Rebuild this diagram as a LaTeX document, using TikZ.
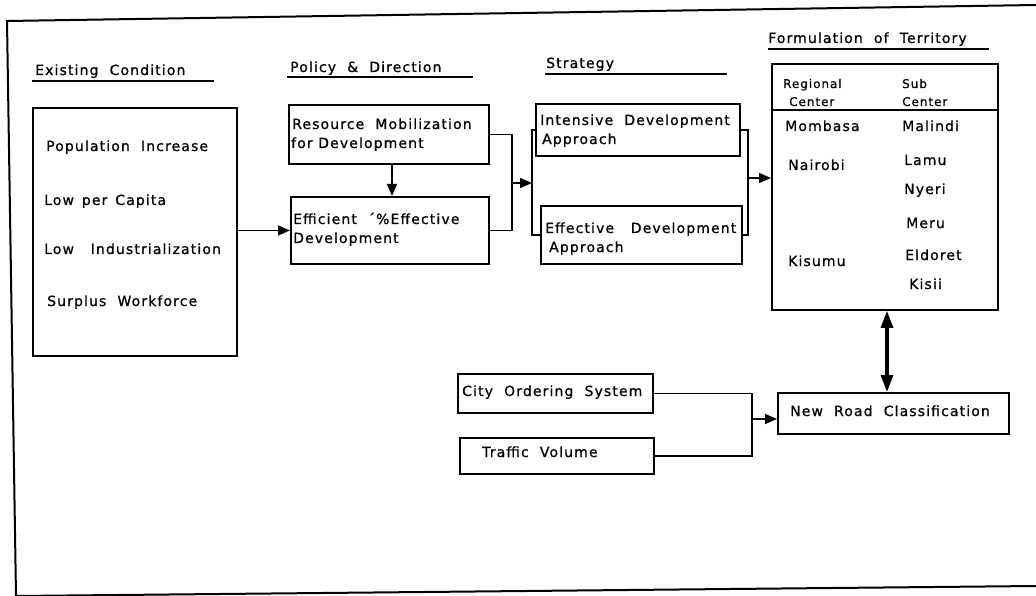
\documentclass[tikz,border=0pt]{standalone}
\usepackage{fontspec}
\setmainfont{DejaVu Sans}[LetterSpace=8,FakeBold=0.8]
\usetikzlibrary{arrows.meta}
\begin{document}
\begin{tikzpicture}[x=1pt,y=-1pt,
  box/.style={draw, line width=1.9pt, inner sep=0pt, anchor=north west},
  txt/.style={anchor=base west, inner sep=0pt, font=\fontsize{14}{16}\selectfont},
  small/.style={anchor=base west, inner sep=0pt, font=\fontsize{12}{14}\selectfont},
  con/.style={line width=1.4pt},
  arr/.style={line width=1.4pt, -{Triangle[length=12pt,width=10pt]}},
  dbl/.style={line width=3.2pt, {Triangle[length=17pt,width=12pt]}-{Triangle[length=17pt,width=12pt]}},
  rulestyle/.style={line width=1.3pt},
  frame/.style={line width=2pt}]
\useasboundingbox (0,0) rectangle (1036,596);
% outer frame
\coordinate (fTL) at (7,21);
\coordinate (fTR) at (1036,5);
\coordinate (fBL) at (16,596);
\coordinate (fBR) at (1036,586);
\draw[frame] (fTR) -- (fTL) -- (fBL);
\draw[frame] (fBL) -- (fBR);
% headings
\node[txt] (h1) at (35,75) {Existing\ \ Condition};
\node[txt] (h2) at (290,72) {Policy\ \ \&\ \ Direction};
\node[txt] (h3) at (546,68) {Strategy};
\node[txt] (h4) at (768,43) {Formulation\ \ of\ \ Territory};
\coordinate (u1a) at (32,81);  \coordinate (u1b) at (214,81);
\coordinate (u2a) at (287,77); \coordinate (u2b) at (473,77);
\coordinate (u3a) at (545,74); \coordinate (u3b) at (727,74);
\coordinate (u4a) at (768,49); \coordinate (u4b) at (989,49);
\draw[rulestyle] (u1a) -- (u1b);
\draw[rulestyle] (u2a) -- (u2b);
\draw[rulestyle] (u3a) -- (u3b);
\draw[rulestyle] (u4a) -- (u4b);
% boxes
\node[box, minimum width=204pt, minimum height=248pt] (ex) at (32,107) {};
\node[box, minimum width=200pt, minimum height=59pt] (res) at (288,104) {};
\node[box, minimum width=198pt, minimum height=67pt] (eff) at (290,196) {};
\node[box, minimum width=204pt, minimum height=52pt] (int) at (535,103) {};
\node[box, minimum width=201pt, minimum height=58pt] (efa) at (540,205) {};
\node[box, minimum width=226pt, minimum height=246pt] (ter) at (771,63) {};
\node[box, minimum width=195pt, minimum height=39pt] (city) at (457,373) {};
\node[box, minimum width=194pt, minimum height=36pt] (traf) at (459,437) {};
\node[box, minimum width=231pt, minimum height=41pt] (road) at (777,392) {};
% texts
\node[txt] (t1) at (46,151) {Population\ \ Increase};
\node[txt] (t2) at (44,205) {Low\ \,per\ \,Capita};
\node[txt] (t3) at (44,254) {Low\ \ \ Industrialization};
\node[txt] (t4) at (47,306) {Surplus\ \ Workforce};
\node[txt] (t5) at (292,129) {Resource\ \ Mobilization};
\node[txt] (t6) at (291,148) {for Development};
\node[txt] (t7) at (293,224) {Efficient\ \ ´\%Effective};
\node[txt] (t8) at (293,243) {Development};
\node[txt] (t9) at (540,125) {Intensive\ \ Development};
\node[txt] (t10) at (542,144) {Approach};
\node[txt] (t11) at (545,233) {Effective\ \ \ Development};
\node[txt] (t12) at (549,252) {Approach};
\node[small] (r1) at (783,88) {Regional};
\node[small] (r2) at (789,106) {Center};
\node[small] (s1) at (902,88) {Sub};
\node[small] (s2) at (902,106) {Center};
\node[txt] (c1) at (785,131) {Mombasa};
\node[txt] (c2) at (902,131) {Malindi};
\node[txt] (c3) at (788,170) {Nairobi};
\node[txt] (c4) at (904,165) {Lamu};
\node[txt] (c5) at (904,194) {Nyeri};
\node[txt] (c6) at (906,228) {Meru};
\node[txt] (c7) at (788,266) {Kisumu};
\node[txt] (c8) at (905,260) {Eldoret};
\node[txt] (c9) at (909,289) {Kisii};
\node[txt] (t13) at (462,396) {City\ \ Ordering\ \ System};
\node[txt] (t14) at (482,457) {Traffic\ \ Volume};
\node[txt] (t15) at (790,416) {New\ \ Road\ \ Classification};
% territory header separator
\coordinate (sep) at (0,110);
\draw[con] (ter.west |- sep) -- (ter.east |- sep);
% connectors
\draw[arr] (ex.east |- eff.west) -- (eff.west);
\coordinate (rs) at (392,0);
\draw[arr] (res.south -| rs) -- (eff.north -| rs);
\coordinate (b1) at (512,183);
\coordinate (b2) at (532,183);
\draw[con] (res.east) -| (b1) |- (eff.east);
\draw[arr] (b1) -- (b2);
\draw[con] (int.west) -| (b2) |- (efa.west);
\coordinate (b3) at (748,178);
\draw[con] (int.east) -| (b3) |- (efa.east);
\draw[arr] (b3) -- (ter.west |- b3);
\coordinate (b4) at (752,419);
\draw[con] (city.east) -| (b4) |- (traf.east);
\draw[arr] (b4) -- (road.west |- b4);
\coordinate (da) at (887,0);
\draw[dbl] (ter.south -| da) -- (road.north -| da);
\end{tikzpicture}
\end{document}
